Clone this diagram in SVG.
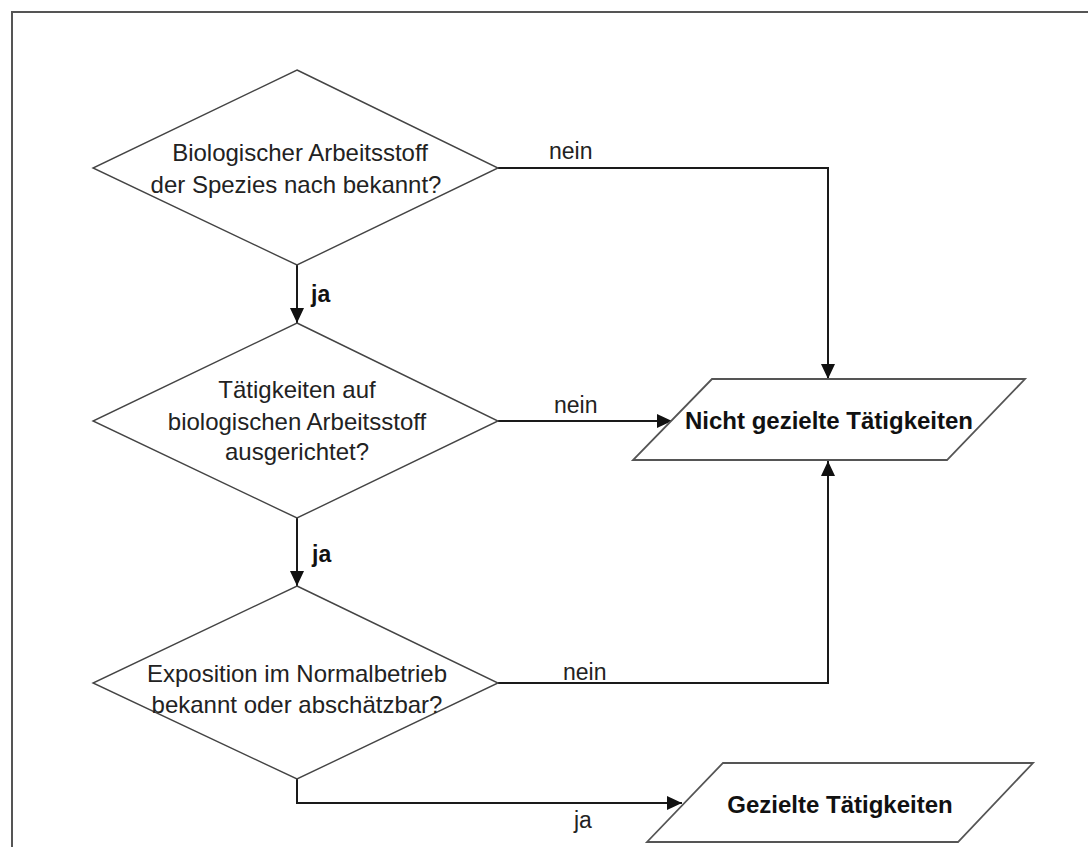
<svg xmlns="http://www.w3.org/2000/svg" width="1088" height="847" viewBox="0 0 1088 847">
<defs>
<marker id="arr" markerWidth="16" markerHeight="14" refX="15" refY="7" orient="auto" markerUnits="userSpaceOnUse">
<path d="M0,0 L15,7 L0,14 Z" fill="#111"/>
</marker>
<style>
.shape{fill:#fff;stroke:#444;stroke-width:1.4}
.para{fill:#fff;stroke:#555;stroke-width:1.8}
.conn{fill:none;stroke:#1a1a1a;stroke-width:2}
.t{font-family:"Liberation Sans",Arial,sans-serif;font-size:24px;fill:#222;text-anchor:middle}
.b{font-family:"Liberation Sans",Arial,sans-serif;font-size:24px;font-weight:bold;fill:#111;text-anchor:middle}
.lbl{font-family:"Liberation Sans",Arial,sans-serif;font-size:23px;fill:#222}
.lblb{font-family:"Liberation Sans",Arial,sans-serif;font-size:23px;font-weight:bold;fill:#111}
</style>
</defs>
<rect width="1088" height="847" fill="#fff"/>
<path d="M12,847 L12,12 L1088,12" fill="none" stroke="#555" stroke-width="2"/>
<g id="connectors">
<path class="conn" d="M297,265 L297,323" marker-end="url(#arr)"/>
<path class="conn" d="M297,518 L297,586" marker-end="url(#arr)"/>
<path class="conn" d="M498,168 L828,168 L828,379" marker-end="url(#arr)"/>
<path class="conn" d="M498,421 L672,421" marker-end="url(#arr)"/>
<path class="conn" d="M498,683 L828,683 L828,461" marker-end="url(#arr)"/>
<path class="conn" d="M297,779 L297,803 L682,803" marker-end="url(#arr)"/>
<text class="lblb" x="311" y="302">ja</text>
<text class="lblb" x="312" y="562">ja</text>
<text class="lbl" x="549" y="159">nein</text>
<text class="lbl" x="554" y="413">nein</text>
<text class="lbl" x="563" y="680">nein</text>
<text class="lbl" x="574" y="828">ja</text>
</g>
<g id="d1">
<polygon class="shape" points="297,70 498,168 297,265 93,168"/>
<text class="t" x="300" y="161">Biologischer Arbeitsstoff</text>
<text class="t" x="296" y="193">der Spezies nach bekannt?</text>
</g>
<g id="d2">
<polygon class="shape" points="297,323 498,421 297,518 93,421"/>
<text class="t" x="297" y="398">Tätigkeiten auf</text>
<text class="t" x="297" y="430">biologischen Arbeitsstoff</text>
<text class="t" x="297" y="460">ausgerichtet?</text>
</g>
<g id="d3">
<polygon class="shape" points="297,586 498,683 297,779 93,683"/>
<text class="t" x="297" y="682">Exposition im Normalbetrieb</text>
<text class="t" x="297" y="713">bekannt oder abschätzbar?</text>
</g>
<g id="nicht">
<polygon class="para" points="712,379 1025,379 947,460 633,460"/>
<text class="b" x="829" y="429">Nicht gezielte Tätigkeiten</text>
</g>
<g id="gezielt">
<polygon class="para" points="723,763 1033,763 958,842 647,842"/>
<text class="b" x="840" y="813">Gezielte Tätigkeiten</text>
</g>
</svg>
